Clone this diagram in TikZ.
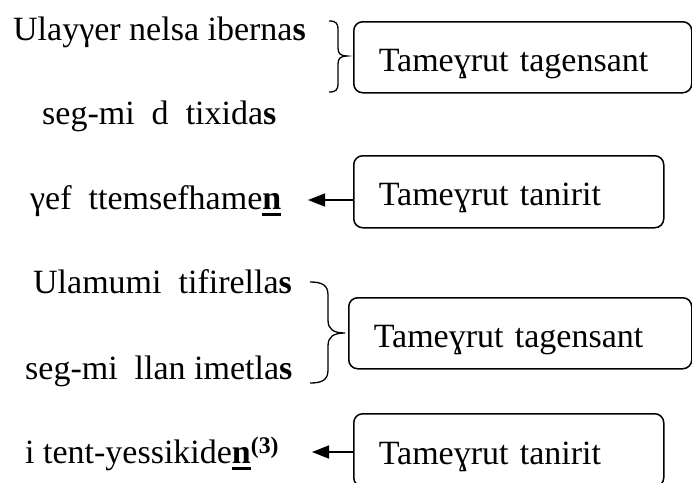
\documentclass[tikz,border=0pt]{standalone}
\usepackage{fontspec}
\setmainfont{Liberation Serif}
\usetikzlibrary{arrows.meta}
\newcommand\myul[1]{\setbox0\hbox{#1}\rlap{\rule[-7pt]{\wd0}{2.6pt}}\box0}
\tikzset{
  big/.style={font=\fontsize{34}{40}\selectfont},
  line/.style={big, anchor=base west, inner sep=0pt},
  tbox/.style={big, draw, line width=1.5pt, rounded corners=9pt, anchor=north west,
    inner xsep=25pt, inner ysep=0pt, align=left, text height=28pt, text depth=0pt},
  arr/.style={line width=1.7pt, -{Triangle[length=17pt,width=13pt]}},
  brace/.style={line width=1.3pt}
}
\begin{document}
\begin{tikzpicture}[x=1pt,y=-1pt]
\clip (0,0) rectangle (692,482);
% left texts
\node[line] (l1) at (13,40) {Ulayγer nelsa iberna\textbf{s}};
\node[line] (l2) at (42,124) {seg-mi\ \ d\ \ tixida\textbf{s}};
\node[line] (l3) at (30,209) {γef\ \ ttemsefhame\myul{\textbf{n}}};
\node[line] (l4) at (33,293) {Ulamumi\ \ tifirella\textbf{s}};
\node[line] (l5) at (25,379) {seg-mi\ \ llan imetla\textbf{s}};
\node[line] (l6) at (25,463) {i tent-yessikide\myul{\textbf{n}}\textsuperscript{\textbf{(3)}}};
% boxes
\node[tbox, minimum width=338pt, minimum height=71pt, text width=288pt] (b1) at (353,21) {Tameɣrut tagensant};
\node[tbox, minimum width=310pt, minimum height=72pt, text width=260pt] (b2) at (353,155) {Tameɣrut tanirit};
\node[tbox, minimum width=343pt, minimum height=71pt, text width=293pt] (b3) at (348,297) {Tameɣrut tagensant};
\node[tbox, minimum width=310pt, minimum height=73pt, text width=260pt] (b4) at (353,413) {Tameɣrut tanirit};
% arrows
\coordinate (t3) at (308,200);
\coordinate (t6) at (312,452);
\draw[arr] (b2.west |- t3) -- (t3);
\draw[arr] (b4.west |- t6) -- (t6);
% braces
\draw[brace] (329,21) .. controls (336,21) and (338,23) .. (338,30) -- (338,48)
  .. controls (338,54) and (341,56) .. (347,56)
  .. controls (341,56) and (338,58) .. (338,64) -- (338,83)
  .. controls (338,90) and (336,92) .. (329,92);
\draw[brace] (310,282) .. controls (322,282) and (328,285) .. (328,295) -- (328,320)
  .. controls (328,329) and (333,333) .. (345,333)
  .. controls (333,333) and (328,337) .. (328,346) -- (328,370)
  .. controls (328,380) and (322,383) .. (310,383);
\end{tikzpicture}
\end{document}
